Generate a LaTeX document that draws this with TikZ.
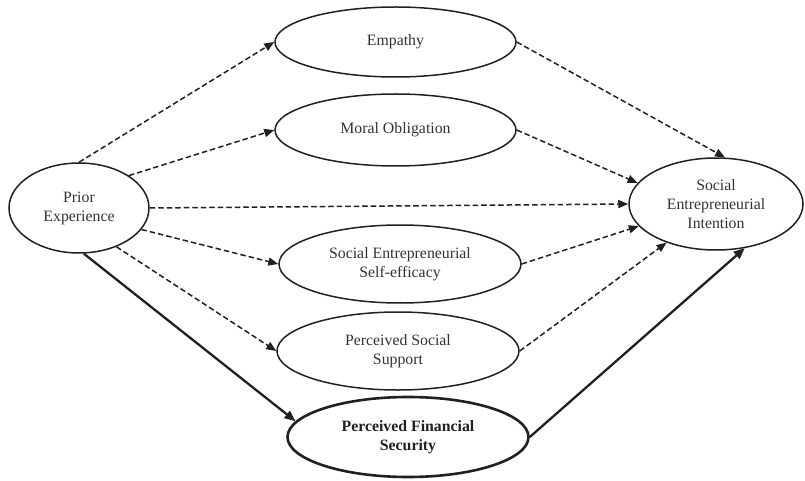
\documentclass[tikz,border=0pt]{standalone}
\usepackage{fontspec}
\setmainfont{Liberation Serif}
\usetikzlibrary{shapes.geometric,arrows.meta}
\definecolor{ink}{RGB}{35,31,32}
\definecolor{txt}{RGB}{50,50,50}
\begin{document}
\begin{tikzpicture}[x=1pt,y=-1pt,
  every node/.style={font=\fontsize{15.8}{19}\selectfont, text=txt},
  latent/.style={ellipse, draw=ink, line width=1.5pt, inner sep=0pt, align=center},
  keylatent/.style={latent, line width=2.6pt, font=\fontsize{15.8}{19}\selectfont\bfseries, text=ink},
  dpath/.style={draw=ink, line width=1.5pt, dash pattern=on 5.5pt off 3pt, -{Triangle[length=10pt,width=8pt]}},
  spath/.style={draw=ink, line width=2.3pt, -{Triangle[length=11pt,width=9pt]}}]
\useasboundingbox (0,0) rectangle (805,481);
\node[latent, minimum width=140pt, minimum height=90pt] (pe) at (79,208) {Prior\\Experience};
\node[latent, minimum width=241pt, minimum height=70pt] (emp) at (395.5,42) {Empathy};
\node[latent, minimum width=241pt, minimum height=72pt] (mo) at (395.5,130) {Moral Obligation};
\node[latent, minimum width=242pt, minimum height=78pt] (sese) at (400,264) {Social Entrepreneurial\\Self-efficacy};
\node[latent, minimum width=242pt, minimum height=78pt] (pss) at (398,351) {Perceived Social\\Support};
\node[keylatent, minimum width=241pt, minimum height=80pt] (pfs) at (408,437) {Perceived Financial\\Security};
\node[latent, minimum width=174pt, minimum height=92pt] (sei) at (716,204) {Social\\Entrepreneurial\\Intention};

\draw[dpath] (pe.north) -- (emp.west);
\draw[dpath] (pe.33) -- (mo.west);
\draw[dpath] (pe.east) -- (sei.west);
\draw[dpath] (pe.-19) -- (sese.west);
\draw[dpath] (pe.-46) -- (pss.west);
\draw[spath] (pe.-84) -- (pfs.172);

\draw[dpath] (emp.east) -- (sei.79);
\draw[dpath] (mo.east) -- (sei.165);
\draw[dpath] (sese.east) -- (sei.-164);
\draw[dpath] (pss.east) -- (sei.-142);
\draw[spath] (pfs.east) -- (sei.-57);
\end{tikzpicture}
\end{document}
